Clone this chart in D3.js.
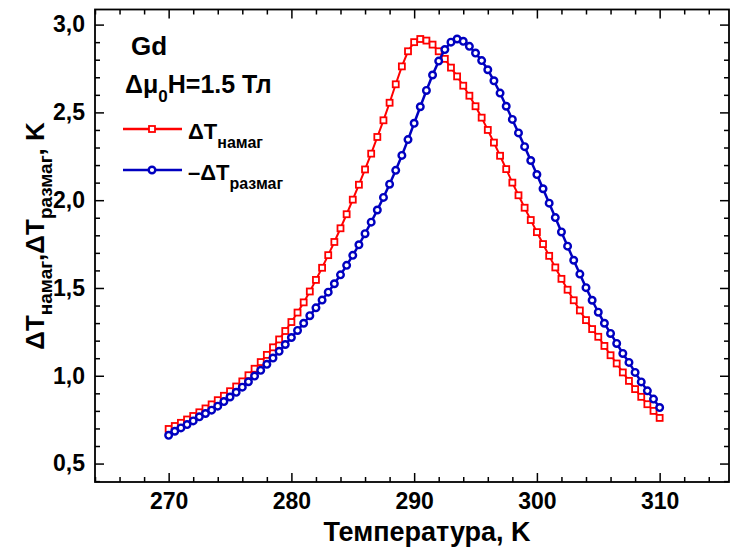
<!DOCTYPE html>
<html>
<head>
<meta charset="utf-8">
<script src="https://d3js.org/d3.v7.min.js"></script>
<style>
  body { margin: 0; background: #fff; }
  text { font-family: "Liberation Sans", Arial, sans-serif; font-weight: bold; fill: #000; }
</style>
</head>
<body>
<div id="chart"></div>
<script>
// temperature grid, K
var temperature = [270, 270.5, 271, 271.5, 272, 272.5, 273, 273.5, 274, 274.5,
  275, 275.5, 276, 276.5, 277, 277.5, 278, 278.5, 279, 279.5,
  280, 280.5, 281, 281.5, 282, 282.5, 283, 283.5, 284, 284.5,
  285, 285.5, 286, 286.5, 287, 287.5, 288, 288.5, 289, 289.5,
  290, 290.5, 291, 291.5, 292, 292.5, 293, 293.5, 294, 294.5,
  295, 295.5, 296, 296.5, 297, 297.5, 298, 298.5, 299, 299.5,
  300, 300.5, 301, 301.5, 302, 302.5, 303, 303.5, 304, 304.5,
  305, 305.5, 306, 306.5, 307, 307.5, 308, 308.5, 309, 309.5, 310];

// ΔT намаг (red squares)
var dTnamag = [0.697, 0.714, 0.732, 0.751, 0.771, 0.792, 0.814, 0.837, 0.861, 0.886,
  0.912, 0.939, 0.968, 1.003, 1.040, 1.078, 1.119, 1.162, 1.207, 1.255,
  1.306, 1.360, 1.418, 1.480, 1.546, 1.615, 1.687, 1.762, 1.840, 1.920,
  2.003, 2.088, 2.175, 2.265, 2.360, 2.455, 2.555, 2.660, 2.762, 2.848,
  2.900, 2.918, 2.909, 2.886, 2.848, 2.805, 2.755, 2.705, 2.652, 2.595,
  2.535, 2.470, 2.400, 2.328, 2.253, 2.177, 2.100, 2.028, 1.957, 1.887,
  1.818, 1.750, 1.683, 1.617, 1.552, 1.490, 1.430, 1.372, 1.317, 1.266,
  1.222, 1.170, 1.117, 1.070, 1.019, 0.971, 0.924, 0.880, 0.838, 0.800, 0.760];

// -ΔT размаг (blue circles)
var dTrazmag = [0.661, 0.684, 0.703, 0.722, 0.743, 0.766, 0.785, 0.804, 0.827, 0.853,
  0.879, 0.906, 0.935, 0.966, 0.998, 1.031, 1.065, 1.101, 1.139, 1.178,
  1.218, 1.258, 1.299, 1.342, 1.387, 1.431, 1.476, 1.524, 1.575, 1.629,
  1.686, 1.746, 1.809, 1.875, 1.944, 2.016, 2.091, 2.170, 2.255, 2.345,
  2.438, 2.532, 2.625, 2.713, 2.792, 2.858, 2.900, 2.918, 2.905, 2.876,
  2.838, 2.795, 2.743, 2.680, 2.610, 2.535, 2.460, 2.383, 2.305, 2.226,
  2.146, 2.065, 1.983, 1.901, 1.819, 1.738, 1.658, 1.579, 1.502, 1.430,
  1.362, 1.299, 1.241, 1.184, 1.127, 1.076, 1.019, 0.965, 0.914, 0.867, 0.819];

var xTicks = [270, 280, 290, 300, 310];
var yTicks = [0.5, 1.0, 1.5, 2.0, 2.5, 3.0];

// plot frame in pixels
var frame = {left: 95, right: 729, top: 9.5, bottom: 482};

var svg = d3.select("#chart")
  .append("svg")
  .attr("width", 730)
  .attr("height", 551);

var x = d3.scaleLinear().domain([264, 315.65]).range([frame.left, frame.right]);
var y = d3.scaleLinear().domain([0.395, 3.086]).range([frame.bottom, frame.top]);

var fmt = function(d) { return d3.format(".1f")(d).replace(".", ","); };
var xMinor = d3.range(264, 316, 2).filter(function(d) { return xTicks.indexOf(d) < 0; });
var yMinor = d3.range(4, 31).filter(function(d) { return d % 5 != 0; })
  .map(function(d) { return d / 10; });

// bottom axis (ticks point inward)
svg.append("g")
  .attr("class", "axis")
  .attr("transform", "translate(0," + frame.bottom + ")")
  .call(d3.axisBottom(x).tickValues(xTicks).tickSize(-9).tickPadding(11).tickSizeOuter(0))
  .style("font-size", "23px");
svg.append("g")
  .attr("transform", "translate(0," + frame.bottom + ")")
  .call(d3.axisBottom(x).tickValues(xMinor).tickSize(-5).tickFormat("").tickSizeOuter(0));

// top axis
svg.append("g")
  .attr("transform", "translate(0," + frame.top + ")")
  .call(d3.axisTop(x).tickValues(xTicks).tickSize(-9).tickFormat("").tickSizeOuter(0));
svg.append("g")
  .attr("transform", "translate(0," + frame.top + ")")
  .call(d3.axisTop(x).tickValues(xMinor).tickSize(-5).tickFormat("").tickSizeOuter(0));

// left axis
svg.append("g")
  .attr("class", "axis")
  .attr("transform", "translate(" + frame.left + ",0)")
  .call(d3.axisLeft(y).tickValues(yTicks).tickSize(-9).tickPadding(10).tickFormat(fmt).tickSizeOuter(0))
  .style("font-size", "23px");
svg.append("g")
  .attr("transform", "translate(" + frame.left + ",0)")
  .call(d3.axisLeft(y).tickValues(yMinor).tickSize(-5).tickFormat("").tickSizeOuter(0));

// right axis
svg.append("g")
  .attr("transform", "translate(" + frame.right + ",0)")
  .call(d3.axisRight(y).tickValues(yTicks).tickSize(-9).tickFormat("").tickSizeOuter(0));
svg.append("g")
  .attr("transform", "translate(" + frame.right + ",0)")
  .call(d3.axisRight(y).tickValues(yMinor).tickSize(-5).tickFormat("").tickSizeOuter(0));

svg.selectAll(".domain").remove();
svg.selectAll(".tick line").attr("stroke", "#000").attr("stroke-width", 1.5);
svg.selectAll(".axis text")
  .style("font-family", "'Liberation Sans', Arial, sans-serif")
  .style("font-weight", "bold")
  .attr("fill", "#000");

// frame
svg.append("rect")
  .attr("x", frame.left).attr("y", frame.top)
  .attr("width", frame.right - frame.left).attr("height", frame.bottom - frame.top)
  .attr("fill", "none").attr("stroke", "#000").attr("stroke-width", 1.8);

// series
var red = temperature.map(function(t, i) { return {t: t, v: dTnamag[i]}; });
var blue = temperature.map(function(t, i) { return {t: t, v: dTrazmag[i]}; });

var line = d3.line()
  .x(function(d) { return x(d.t); })
  .y(function(d) { return y(d.v); });

svg.append("path").datum(red)
  .attr("fill", "none").attr("stroke", "#ff0000").attr("stroke-width", 2)
  .attr("d", line);
svg.append("g").selectAll("rect")
  .data(red).enter().append("rect")
  .attr("x", function(d) { return x(d.t) - 3; })
  .attr("y", function(d) { return y(d.v) - 3; })
  .attr("width", 6).attr("height", 6)
  .attr("fill", "#fff").attr("stroke", "#ff0000").attr("stroke-width", 1.8);

svg.append("path").datum(blue)
  .attr("fill", "none").attr("stroke", "#0000c0").attr("stroke-width", 2.5)
  .attr("d", line);
svg.append("g").selectAll("circle")
  .data(blue).enter().append("circle")
  .attr("cx", function(d) { return x(d.t); })
  .attr("cy", function(d) { return y(d.v); })
  .attr("r", 3.3)
  .attr("fill", "#fff").attr("stroke", "#0000c0").attr("stroke-width", 2.4);

// axis titles
svg.append("text")
  .attr("x", 427).attr("y", 541)
  .attr("text-anchor", "middle")
  .style("font-size", "27px")
  .text("Температура, K");

var yt = svg.append("text")
  .attr("transform", "translate(44,236) rotate(-90)")
  .attr("text-anchor", "middle")
  .style("font-size", "26px");
yt.append("tspan").text("ΔT");
yt.append("tspan").attr("dy", 8).style("font-size", "19px").text("намаг");
yt.append("tspan").attr("dy", -8).text(",ΔT");
yt.append("tspan").attr("dy", 8).style("font-size", "19px").text("размаг");
yt.append("tspan").attr("dy", -8).text(", K");

// annotations
svg.append("text").attr("x", 131).attr("y", 55)
  .style("font-size", "26px").text("Gd");

var h = svg.append("text").attr("x", 125).attr("y", 93).style("font-size", "25px");
h.append("tspan").text("Δμ");
h.append("tspan").attr("dy", 9).style("font-size", "17px").text("0");
h.append("tspan").attr("dy", -9).text("H=1.5 Тл");

// legend
svg.append("line").attr("x1", 123).attr("x2", 182).attr("y1", 129).attr("y2", 129)
  .attr("stroke", "#ff0000").attr("stroke-width", 2.5);
svg.append("rect").attr("x", 149).attr("y", 126).attr("width", 6).attr("height", 6)
  .attr("fill", "#fff").attr("stroke", "#ff0000").attr("stroke-width", 1.8);
var l1 = svg.append("text").attr("x", 188).attr("y", 139).style("font-size", "22px");
l1.append("tspan").text("ΔT");
l1.append("tspan").attr("dy", 9).style("font-size", "16px").text("намаг");

svg.append("line").attr("x1", 123).attr("x2", 182).attr("y1", 170).attr("y2", 170)
  .attr("stroke", "#0000c0").attr("stroke-width", 2.5);
svg.append("circle").attr("cx", 152).attr("cy", 170).attr("r", 3.3)
  .attr("fill", "#fff").attr("stroke", "#0000c0").attr("stroke-width", 2.4);
var l2 = svg.append("text").attr("x", 188).attr("y", 180).style("font-size", "22px");
l2.append("tspan").text("–ΔT");
l2.append("tspan").attr("dy", 9).style("font-size", "16px").text("размаг");
</script>
</body>
</html>
